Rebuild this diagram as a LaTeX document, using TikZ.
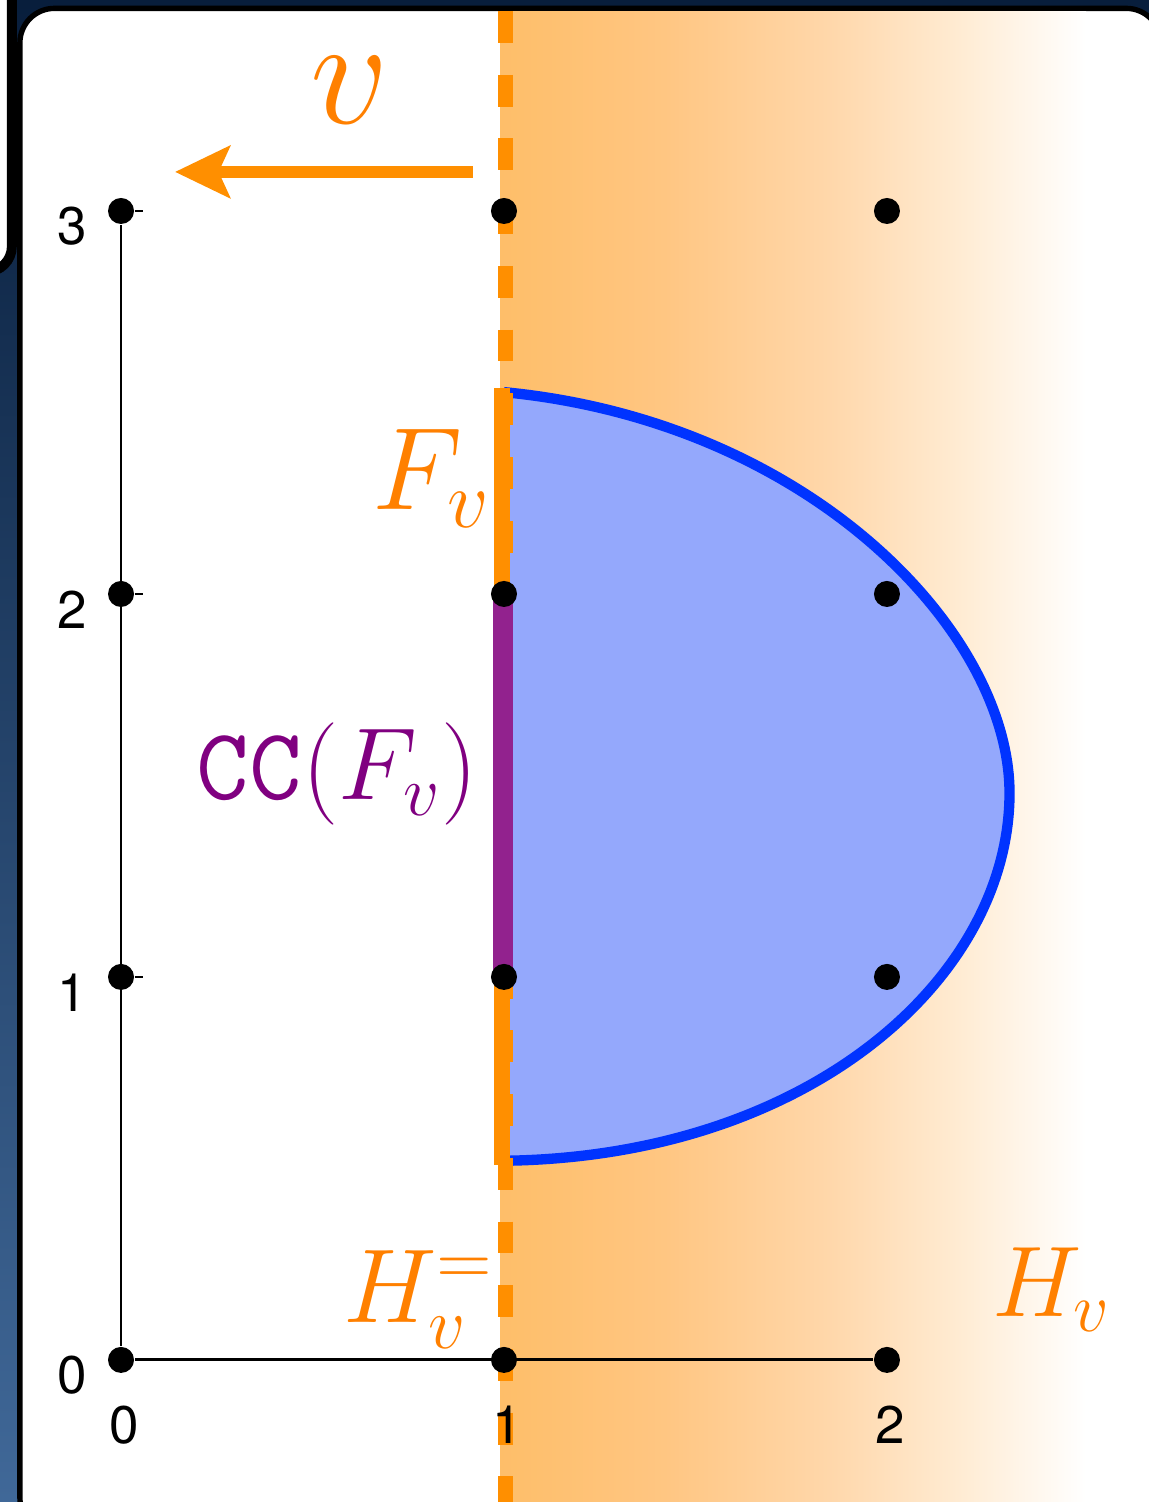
\documentclass[tikz,border=0pt]{standalone}
\usepackage{amsmath,amssymb}
\usepackage{fontspec}
\usetikzlibrary{arrows.meta}
\newfontfamily\axisfont{TeX Gyre Heros}

\definecolor{bgtop}{RGB}{8,30,60}
\definecolor{bgbot}{RGB}{64,104,152}
\definecolor{hvline}{RGB}{255,143,0}
\definecolor{hvtext}{RGB}{255,128,0}
\definecolor{shA}{RGB}{254,190,105}
\definecolor{shB}{RGB}{255,198,130}
\definecolor{shC}{RGB}{255,215,170}
\definecolor{shD}{RGB}{255,235,210}
\definecolor{ccfill}{RGB}{148,168,252}
\definecolor{ccedge}{RGB}{0,51,255}
\definecolor{ccseg}{RGB}{146,34,142}
\definecolor{cctext}{RGB}{128,0,128}

\pgfdeclarehorizontalshading{hvfade}{100bp}{color(0bp)=(shA); color(25bp)=(shA); color(39bp)=(shB); color(53bp)=(shC); color(64bp)=(shD); color(75bp)=(white); color(100bp)=(white)}

\begin{document}
\begin{tikzpicture}[x=3cm,y=3cm,>={Stealth[length=12.2pt,width=11.5pt,inset=2.5pt]},
    latpt/.style={circle,fill=black,inner sep=0pt,minimum size=5.8pt},
    ax/.style={font=\axisfont\fontsize{11.8}{14}\selectfont,inner sep=0pt},
    lab/.style={font=\huge,inner sep=0pt}]
	  \useasboundingbox (-0.316,-0.371) rectangle (2.684,3.551);
	  \fill[top color=bgtop,bottom color=bgbot] (-0.316,-0.371) rectangle (2.684,3.551);
	  \draw[line width=2.2pt,fill=white,rounded corners=0.2cm] (-0.7,2.841) rectangle (-0.285,3.9);
	  \draw[line width=1.2pt,fill=white,rounded corners=0.27cm] (-0.264,-0.45) rectangle (2.715,3.529);
	  % half space H_v
	  \begin{scope}
	    \clip (0.99,-0.45) rectangle (2.70,3.522);
	    \shade[shading=hvfade] (0.99,-0.45) rectangle (2.52,3.522);
	  \end{scope}
	  \fill[ccfill] (1,2.527) .. controls (1.8,2.45) and (2.32,1.9) .. (2.32,1.48)
	    .. controls (2.32,1.0) and (1.8,0.53) .. (1,0.52) -- cycle;
	  \draw[ccedge,line width=2.3pt] (1,2.527) .. controls (1.8,2.45) and (2.32,1.9) .. (2.32,1.48)
	    .. controls (2.32,1.0) and (1.8,0.53) .. (1,0.52);
	  \draw[hvline,line width=3.3pt,dash pattern=on 7.1pt off 7.1pt] (1.003,3.522) -- (1.003,-0.45);
	  \draw[hvline,line width=3.5pt] (0.995,2.538) -- (0.995,0.509);
	  \draw[ccseg,line width=4.5pt] (0.997,2) -- (0.997,1);
	  % lattice points and axes
	  \foreach \i in {0,1,2}
	    \foreach \j in {0,...,3}
	      \node[latpt] (p\i\j) at (\i,\j) {};
	  \draw[line width=0.6pt] (p00) -- (p03);
	  \draw[line width=0.7pt] (p00) -- (p20);
	  \foreach \j in {0,...,3}
	    \draw[line width=0.6pt] (p0\j.east) -- ++(0.02,0);
	  \foreach \j in {0,...,3}
	    \node[ax] (ylab\j) at (-0.128,\j-0.04) {\j};
	  \foreach \i in {0,1,2}
	    \node[ax] (xlab\i) at (\i+0.008,-0.170) {\i};
	  % labels
	  \node[lab,text=hvtext,scale=1.66] (vlab) at (0.598,3.316) {$v$};
	  \node[lab,text=hvtext,scale=1.26] (Flab) at (0.812,2.302) {$F_v$};
	  \node[lab,text=cctext,scale=1.10] (cclab) at (0.565,1.529) {$\mathtt{CC}(F_v)$};
	  \node[lab,text=hvtext,scale=1.13] (Heqlab) at (0.778,0.157) {$H_v^{=}$};
	  \node[lab,text=hvtext,scale=1.08] (Hlab) at (2.431,0.183) {$H_v$};
	  \coordinate (vtail) at (0.919,3.102);
	  \coordinate (vtip) at (0.141,3.102);
	  \draw[->,hvline,line width=2.7pt] (vtail) -- (vtip);
	\end{tikzpicture}
\end{document}
